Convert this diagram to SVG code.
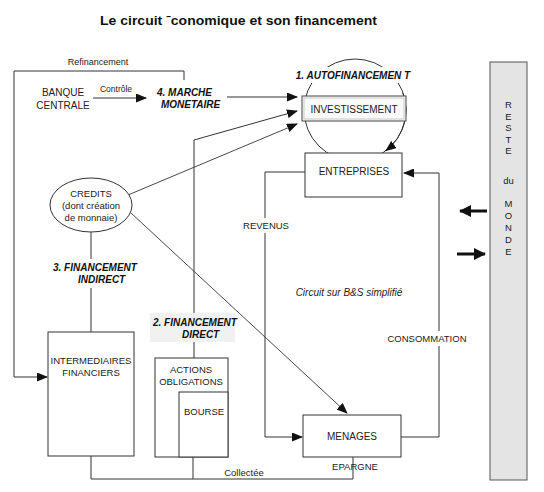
<svg xmlns="http://www.w3.org/2000/svg" width="544" height="492" viewBox="0 0 544 492">
<defs>
<marker id="ah" markerUnits="userSpaceOnUse" markerWidth="11" markerHeight="9" refX="10" refY="4.5" orient="auto">
<path d="M0,0 L11,4.5 L0,9 z" fill="#111"/>
</marker>
<marker id="bh" markerUnits="userSpaceOnUse" markerWidth="12" markerHeight="12" refX="11" refY="6" orient="auto">
<path d="M0,0 L12,6 L0,12 z" fill="#111"/>
</marker>
</defs>
<style>
text{font-family:"Liberation Sans",Arial,sans-serif;fill:#222;font-size:10px}
.c{text-anchor:middle}
.bi{font-weight:bold;font-style:italic;fill:#111}
.box{fill:#fff;stroke:#333;stroke-width:1}
.ln{fill:none;stroke:#333;stroke-width:1}
.thin{fill:none;stroke:#333;stroke-width:0.9}
.rm{font-size:9.5px;text-anchor:middle}
</style>
<rect width="544" height="492" fill="#fff"/>
<text x="238.5" y="25" class="c" style="font-size:13px;font-weight:bold;fill:#111" textLength="277" lengthAdjust="spacingAndGlyphs">Le circuit ˉconomique et son financement</text>

<g id="connectors">
<polyline class="ln" points="184,80 184,71 14,71 14,377 47,377" marker-end="url(#ah)"/>
<line class="ln" x1="93" y1="98" x2="146" y2="98" marker-end="url(#ah)"/>
<line class="ln" x1="227" y1="97" x2="297" y2="97" marker-end="url(#ah)"/>
<polyline class="ln" points="194,313 194,140 297,111" marker-end="url(#ah)"/>
<line class="ln" x1="194" y1="342" x2="194" y2="358"/>
<line class="thin" x1="128" y1="195" x2="297" y2="124" marker-end="url(#ah)"/>
<line class="thin" x1="131" y1="213" x2="347" y2="413" marker-end="url(#ah)"/>
<line class="ln" x1="91" y1="232" x2="91" y2="259"/>
<line class="ln" x1="91" y1="288" x2="91" y2="332"/>
<polyline class="ln" points="305,172 265,172 265,437 302,437" marker-end="url(#ah)"/>
<polyline class="ln" points="401,437 439,437 439,173 404,173" marker-end="url(#ah)"/>
<polyline class="ln" points="353,457 353,479 91,479 91,456"/>
<line class="ln" x1="193" y1="457" x2="193" y2="479"/>
<line x1="487" y1="211" x2="460" y2="211" stroke="#111" stroke-width="3" marker-end="url(#bh)"/>
<line x1="457" y1="254" x2="485" y2="254" stroke="#111" stroke-width="3" marker-end="url(#bh)"/>
<circle class="ln" cx="355" cy="110" r="51"/>
<path class="ln" d="M403,93 A51,51 0 0 1 386,150.6" marker-end="url(#ah)"/>
<text x="98" y="65" class="c" style="font-size:9px">Refinancement</text>
<text x="116" y="92" class="c" style="font-size:8.5px">Contrôle</text>
<rect x="240" y="218" width="52" height="15" fill="#fff"/>
<text x="266" y="228.5" class="c" style="font-size:9.5px">REVENUS</text>
<rect x="386" y="331" width="82" height="15" fill="#fff"/>
<text x="427" y="341.5" class="c" style="font-size:9.5px">CONSOMMATION</text>
<text x="244" y="476" class="c" style="font-size:9.5px">Collectée</text>
<text x="355" y="469.5" class="c" style="font-size:9.5px">EPARGNE</text>
</g>

<g id="banque">
<text x="63" y="96" class="c">BANQUE</text>
<text x="63" y="108.5" class="c">CENTRALE</text>
</g>

<g id="marche">
<text x="157" y="96" class="bi">4. MARCHE</text>
<text x="161" y="108" class="bi">MONETAIRE</text>
</g>

<g id="autofinancement">
<rect x="297" y="67" width="113" height="16" fill="#fff"/>
<text x="353" y="79" class="c bi">1. AUTOFINANCEMEN T</text>
</g>

<g id="investissement">
<rect x="302" y="96" width="104" height="25" fill="#fafafa" stroke="#444" stroke-width="1"/>
<rect x="304" y="98" width="100" height="21" fill="none" stroke="#c8c8c8" stroke-width="1"/>
<text x="354" y="112.5" class="c">INVESTISSEMENT</text>
</g>

<g id="entreprises">
<rect x="305" y="153" width="97" height="44" class="box"/>
<text x="354" y="174.5" class="c">ENTREPRISES</text>
</g>

<g id="credits">
<ellipse cx="91" cy="205" rx="41" ry="27" class="box"/>
<text x="91" y="196.5" class="c" style="font-size:9.5px">CREDITS</text>
<text x="91" y="208.5" class="c" style="font-size:9.5px">(dont création</text>
<text x="91" y="220.5" class="c" style="font-size:9.5px">de monnaie)</text>
</g>

<g id="indirect">
<text x="53" y="271" class="bi">3. FINANCEMENT</text>
<text x="78" y="283" class="bi">INDIRECT</text>
</g>

<g id="circuit">
<text x="349" y="296" class="c" style="font-style:italic">Circuit sur B&amp;S simplifié</text>
</g>

<g id="direct">
<rect x="150" y="313" width="85" height="29" fill="#f1f1f1"/>
<text x="153" y="326" class="bi">2. FINANCEMENT</text>
<text x="182" y="338" class="bi">DIRECT</text>
</g>

<g id="intermediaires">
<rect x="48" y="332" width="86" height="124" class="box"/>
<text x="91" y="363.5" class="c" style="font-size:9.5px">INTERMEDIAIRES</text>
<text x="91" y="375.5" class="c" style="font-size:9.5px">FINANCIERS</text>
</g>

<g id="actions">
<rect x="155" y="358" width="73" height="99" class="box"/>
<text x="191" y="372.5" class="c" style="font-size:9.5px">ACTIONS</text>
<text x="191" y="385" class="c" style="font-size:9.5px">OBLIGATIONS</text>
</g>

<g id="bourse">
<rect x="179" y="392" width="49" height="65" class="box"/>
<text x="204" y="414.5" class="c" style="font-size:9.5px">BOURSE</text>
</g>

<g id="menages">
<rect x="303" y="415" width="98" height="42" class="box"/>
<text x="352" y="440" class="c">MENAGES</text>
</g>

<g id="reste">
<rect x="490" y="62" width="37" height="418" fill="#e4e4e4" stroke="#555" stroke-width="1"/>
<text x="508.5" y="108" class="rm">R</text>
<text x="508.5" y="119.5" class="rm">E</text>
<text x="508.5" y="131" class="rm">S</text>
<text x="508.5" y="142.5" class="rm">T</text>
<text x="508.5" y="154" class="rm">E</text>
<text x="508.5" y="184" class="rm">du</text>
<text x="508.5" y="207" class="rm">M</text>
<text x="508.5" y="219" class="rm">O</text>
<text x="508.5" y="231" class="rm">N</text>
<text x="508.5" y="243" class="rm">D</text>
<text x="508.5" y="255" class="rm">E</text>
</g>
</svg>
